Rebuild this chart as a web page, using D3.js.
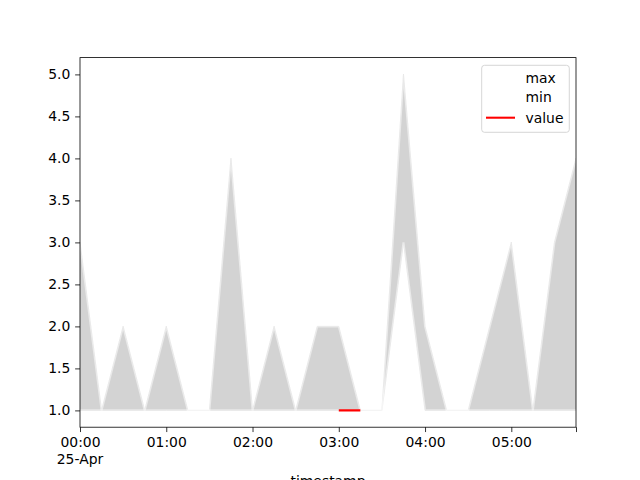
<!DOCTYPE html>
<html>
<head>
<meta charset="utf-8">
<script src="https://cdn.jsdelivr.net/npm/d3@7"></script>
<style>
  html, body { margin: 0; padding: 0; background: #fff; }
  svg { display: block; }
  text { font-family: "DejaVu Sans", sans-serif; }
</style>
</head>
<body>
<svg id="chart" width="640" height="480"></svg>
<script>
// ---- data (15-minute timestamps on 25-Apr) ----
const times = ["00:00","00:15","00:30","00:45","01:00","01:15","01:30","01:45",
               "02:00","02:15","02:30","02:45","03:00","03:15","03:30","03:45",
               "04:00","04:15","04:30","04:45","05:00","05:15","05:30","05:45"];
const maxValues = [3,1,2,1,2,1,1,4, 1,2,1,2,2,1,1,5, 2,1,1,2,3,1,3,4];
const minValues = [1,1,1,1,1,1,1,1, 1,1,1,1,1,1,1,3, 1,1,1,1,1,1,1,1];
const valueValues = [null,null,null,null,null,null,null,null,
                     null,null,null,null,1,1,null,null,
                     null,null,null,null,null,null,null,null];
const yTicks = [1.0,1.5,2.0,2.5,3.0,3.5,4.0,4.5,5.0];
const xTickLabels = ["00:00","01:00","02:00","03:00","04:00","05:00"];
const dateLabel = "25-Apr";
const legendLabels = ["max","min","value"];

// ---- build rows ----
const parseT = s => { const [h,m] = s.split(":").map(Number); return new Date(2023,3,25,h,m); };
const rows = times.map((t,i) => ({t: parseT(t), max: maxValues[i], min: minValues[i], value: valueValues[i]}));

const svg = d3.select("#chart");
const L = 80, R = 576, T = 57.6, B = 427.2;
const fs = 13.9;
const lw = 2.08;

const x = d3.scaleTime().domain([rows[0].t, rows[rows.length-1].t]).range([L, R]);
const y = d3.scaleLinear().domain([0.8, 5.2]).range([B, T]);

const g = svg.append("g");
g.append("clipPath").attr("id","clip").append("rect")
  .attr("x", L).attr("y", T).attr("width", R-L).attr("height", B-T);
const plot = g.append("g").attr("clip-path","url(#clip)");

// fill between min and max
const area = d3.area().x(d => x(d.t)).y0(d => y(d.min)).y1(d => y(d.max));
plot.append("path").datum(rows).attr("d", area)
  .attr("fill", "lightgray").attr("stroke", "lightgray").attr("stroke-width", 1);

// max / min lines (white)
["max","min"].forEach(k => {
  plot.append("path").datum(rows)
    .attr("d", d3.line().x(d => x(d.t)).y(d => y(d[k])))
    .attr("fill","none").attr("stroke","#fff").attr("stroke-opacity",0.5).attr("stroke-width",lw);
});

// value line (red)
plot.append("path").datum(rows)
  .attr("d", d3.line().defined(d => d.value != null).x(d => x(d.t)).y(d => y(d.value)))
  .attr("fill","none").attr("stroke","red").attr("stroke-width",lw);

// ---- axes ----
const hourTicks = xTickLabels.map(parseT);
const xTickVals = hourTicks.concat([rows[rows.length-1].t]);
const fmt = d3.timeFormat("%H:%M");
const xAxis = d3.axisBottom(x).tickValues(xTickVals)
  .tickFormat((d,i) => i < hourTicks.length ? fmt(d) : "")
  .tickSize(4.86).tickPadding(4.86);
const gx = g.append("g").attr("transform", `translate(0,${B})`).call(xAxis);
gx.select(".domain").remove();
gx.selectAll("line").attr("stroke","#000").attr("stroke-width",0.8);
gx.selectAll("text").attr("font-size", fs).attr("font-family","DejaVu Sans").attr("fill","#000");
// second line under first tick
gx.append("text").attr("x", x(hourTicks[0])).attr("y", 4.86 + 4.86 + 2*fs - 1)
  .attr("text-anchor","middle").attr("font-size", fs).attr("fill","#000").text(dateLabel);

const yAxis = d3.axisLeft(y).tickValues(yTicks).tickFormat(d3.format(".1f"))
  .tickSize(4.86).tickPadding(4.86);
const gy = g.append("g").attr("transform", `translate(${L},0)`).call(yAxis);
gy.select(".domain").remove();
gy.selectAll("line").attr("stroke","#000").attr("stroke-width",0.8);
gy.selectAll("text").attr("font-size", fs).attr("font-family","DejaVu Sans").attr("fill","#000");

// frame
g.append("rect").attr("x", L).attr("y", T).attr("width", R-L).attr("height", B-T)
  .attr("fill","none").attr("stroke","#000").attr("stroke-width",0.8);

// x label
g.append("text").attr("x", (L+R)/2).attr("y", 486).attr("text-anchor","middle")
  .attr("font-size", fs).attr("fill","#000").text("timestamp");

// ---- legend ----
const lg = g.append("g");
lg.append("rect").attr("x", 481.7).attr("y", 65.3).attr("width", 87.6).attr("height", 67)
  .attr("rx", 2.8).attr("fill","#fff").attr("fill-opacity",0.8)
  .attr("stroke","#ccc").attr("stroke-width",0.8);
const legendColors = ["#fff","#fff","red"];
const ly = [77.7, 97.5, 117.7];
legendLabels.forEach((lab,i) => {
  lg.append("line").attr("x1", 486).attr("x2", 515).attr("y1", ly[i]).attr("y2", ly[i])
    .attr("stroke", legendColors[i]).attr("stroke-width",lw);
  lg.append("text").attr("x", 525.5).attr("y", ly[i]).attr("dy","0.35em")
    .attr("font-size", fs).attr("fill","#000").text(lab);
});
</script>
</body>
</html>
